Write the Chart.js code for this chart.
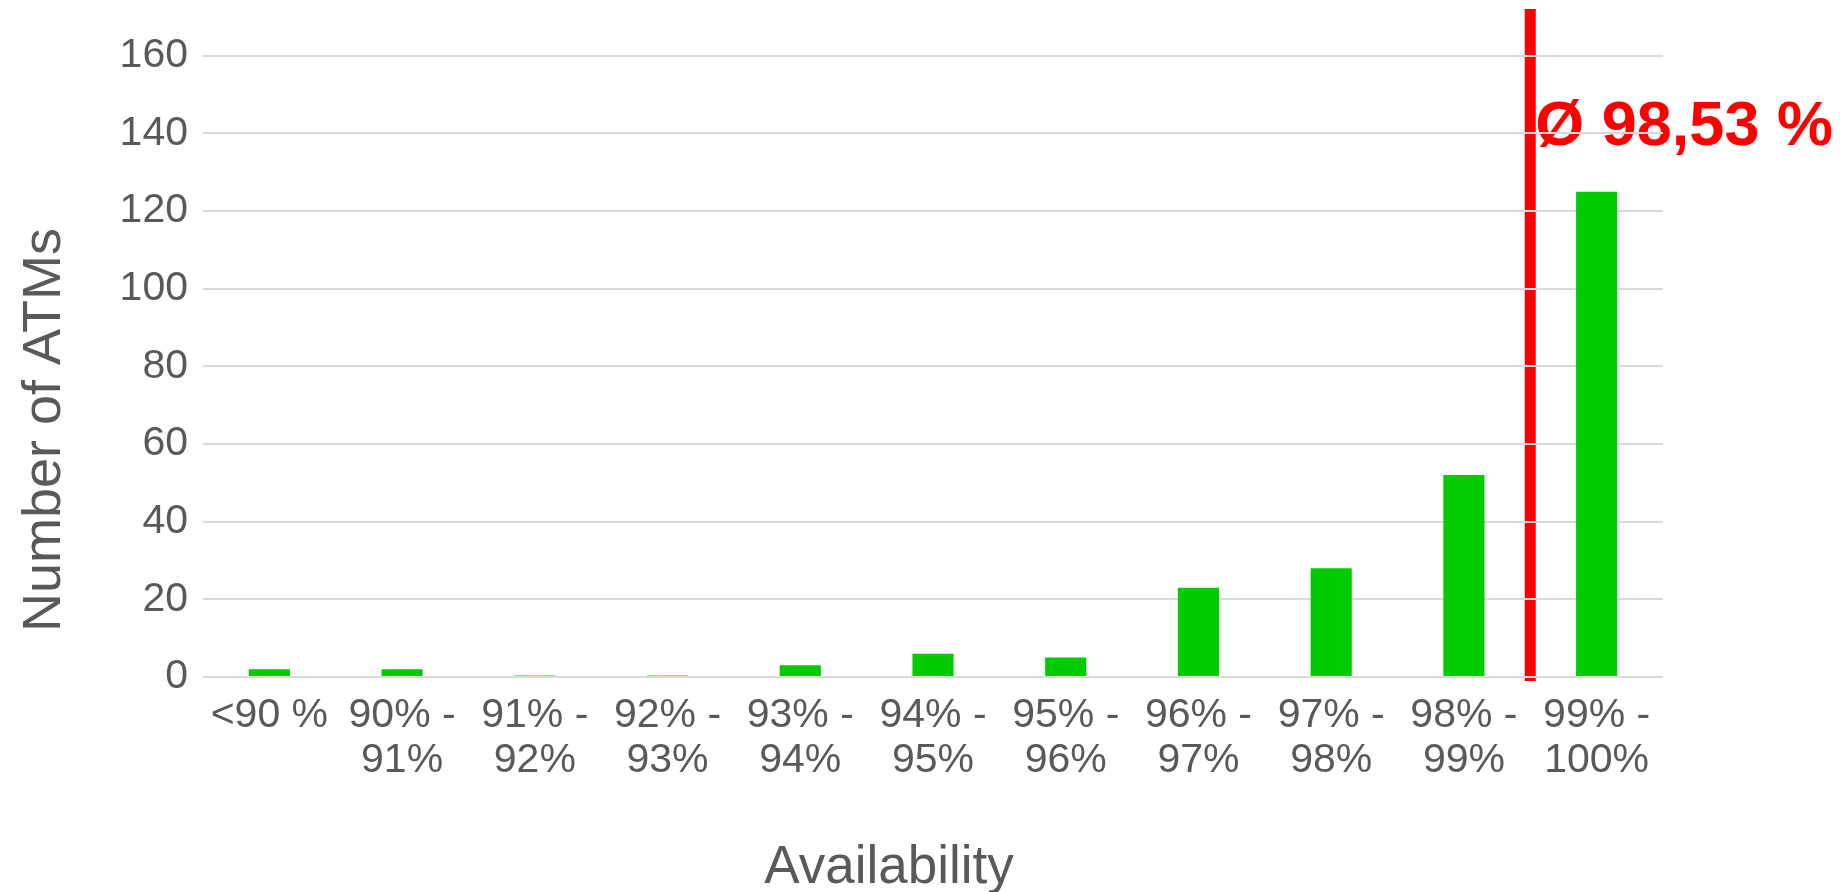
<!DOCTYPE html>
<html>
<head>
<meta charset="utf-8">
<script src="https://cdn.jsdelivr.net/npm/chart.js@4/dist/chart.umd.min.js"></script>
<style>
  html, body { margin: 0; padding: 0; background: #fff; }
  #wrap { width: 1847px; height: 892px; }
</style>
</head>
<body>
<div id="wrap"><canvas id="atmChart"></canvas></div>
<script>
const categories = [
  ['<90 %'], ['90% -', '91%'], ['91% -', '92%'], ['92% -', '93%'], ['93% -', '94%'],
  ['94% -', '95%'], ['95% -', '96%'], ['96% -', '97%'], ['97% -', '98%'], ['98% -', '99%'],
  ['99% -', '100%']
];
const atmCounts = [2, 2, 0.4, 0.4, 3, 6, 5, 23, 28, 52, 125];
const yTicks = [0, 20, 40, 60, 80, 100, 120, 140, 160];
const averageLabel = 'Ø 98,53 %';
const averagePos = 9.5; // position of the mean marker on the category axis

const fontFamily = '"Liberation Sans", Arial, sans-serif';
const textColor = '#595959';

const annotationPlugin = {
  id: 'averageLine',
  beforeDraw(chart) {
    const ctx = chart.ctx;
    const x = chart.scales.x.getPixelForValue(averagePos);
    const area = chart.chartArea;
    ctx.save();
    ctx.strokeStyle = '#ff0000';
    ctx.lineWidth = 11;
    ctx.beginPath();
    ctx.moveTo(x, area.top - 8);
    ctx.lineTo(x, area.bottom + 4);
    ctx.stroke();
    ctx.fillStyle = '#ff0000';
    ctx.font = 'bold 63px ' + fontFamily;
    ctx.textAlign = 'left';
    ctx.textBaseline = 'alphabetic';
    ctx.fillText(averageLabel, x + 5, 145);
    ctx.restore();
  },
  afterDraw(chart) {
    // axis titles
    const ctx = chart.ctx;
    ctx.save();
    ctx.fillStyle = textColor;
    ctx.font = '53px ' + fontFamily;
    ctx.textAlign = 'center';
    ctx.textBaseline = 'alphabetic';
    ctx.fillText('Availability', 889, 883);
    ctx.translate(60, 430);
    ctx.rotate(-Math.PI / 2);
    ctx.font = '54px ' + fontFamily;
    ctx.fillText('Number of ATMs', 0, 0);
    ctx.restore();
  }
};

document.addEventListener('DOMContentLoaded', function () {
  const ctx = document.getElementById('atmChart').getContext('2d');
  new Chart(ctx, {
    type: 'bar',
    data: {
      labels: categories,
      datasets: [{
        label: 'Number of ATMs',
        data: atmCounts,
        backgroundColor: '#00cc00',
        borderWidth: 0,
        barPercentage: 0.31,
        categoryPercentage: 1.0
      }]
    },
    options: {
      responsive: true,
      maintainAspectRatio: false,
      animation: false,
      layout: { padding: { top: 17, right: 184, bottom: 0, left: 0 } },
      plugins: {
        legend: { display: false },
        tooltip: { enabled: false }
      },
      scales: {
        x: {
          grid: { display: false },
          border: { display: false },
          ticks: {
            color: textColor,
            font: { family: fontFamily, size: 41, lineHeight: 1.1 },
            padding: 8,
            maxRotation: 0,
            autoSkip: false
          },
          afterFit(scale) {
            scale.height = 215;
            scale.paddingLeft = 0;
            scale.paddingRight = 0;
          }
        },
        y: {
          min: 0,
          max: 170,
          grid: { color: '#d9d9d9', lineWidth: 2, drawTicks: false },
          border: { display: false },
          ticks: {
            stepSize: 20,
            color: textColor,
            font: { family: fontFamily, size: 41 },
            padding: 15
          },
          afterBuildTicks(scale) {
            scale.ticks = yTicks.map(v => ({ value: v }));
          },
          afterFit(scale) {
            scale.width = 203;
            scale.paddingTop = 0;
            scale.paddingBottom = 0;
          }
        }
      }
    },
    plugins: [annotationPlugin]
  });
});
</script>
</body>
</html>
